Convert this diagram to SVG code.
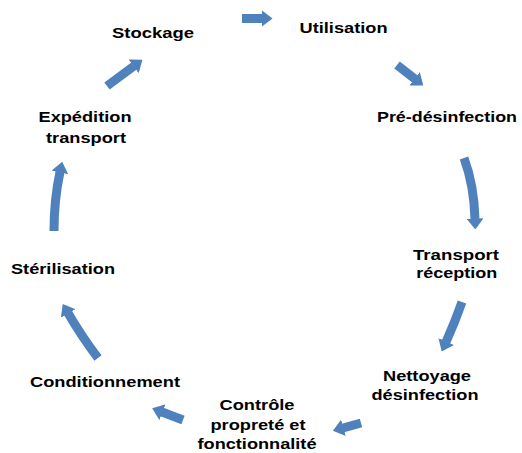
<svg xmlns="http://www.w3.org/2000/svg" width="522" height="453" viewBox="0 0 522 453">
<style>
.lbl{font-family:"Liberation Sans",Arial,sans-serif;font-weight:bold;font-size:15.5px;fill:#000;text-anchor:middle}
.arr{fill:none;stroke:#4F81BD;stroke-width:9;marker-end:url(#head)}
</style>
<defs>
<marker id="head" markerUnits="userSpaceOnUse" markerWidth="11" markerHeight="17" viewBox="0 0 11 17" refX="0.5" refY="8.5" orient="auto">
<path d="M0,0 L11,8.5 L0,17 z" fill="#4F81BD"/>
</marker>
</defs>
<rect width="522" height="453" fill="#fff"/>
<g id="connectors">
<path class="arr" d="M242,18.5 L262,18.5"/>
<path class="arr" d="M397,65 L415,79"/>
<path class="arr" d="M464,158 Q474,185 475,219"/>
<path class="arr" d="M462,302 Q455,322 446,342"/>
<path class="arr" d="M361,423 L343,428"/>
<path class="arr" d="M183,420 L162,412"/>
<path class="arr" d="M98,358 Q82,337 68,313"/>
<path class="arr" d="M54,231 Q54,200 60,172"/>
<path class="arr" d="M107,86 L134,66"/>
</g>
<g id="n-stockage"><text class="lbl" x="153" y="37.5" textLength="82" lengthAdjust="spacingAndGlyphs">Stockage</text></g>
<g id="n-utilisation"><text class="lbl" x="343.5" y="32.7" textLength="88" lengthAdjust="spacingAndGlyphs">Utilisation</text></g>
<g id="n-predesinfection"><text class="lbl" x="447" y="122" textLength="140" lengthAdjust="spacingAndGlyphs">Pré-désinfection</text></g>
<g id="n-transport"><text class="lbl" x="456" y="260" textLength="86" lengthAdjust="spacingAndGlyphs">Transport</text><text class="lbl" x="456.7" y="278" textLength="81" lengthAdjust="spacingAndGlyphs">réception</text></g>
<g id="n-nettoyage"><text class="lbl" x="427" y="381" textLength="88" lengthAdjust="spacingAndGlyphs">Nettoyage</text><text class="lbl" x="425" y="400" textLength="107" lengthAdjust="spacingAndGlyphs">désinfection</text></g>
<g id="n-controle"><text class="lbl" x="257" y="410" textLength="75" lengthAdjust="spacingAndGlyphs">Contrôle</text><text class="lbl" x="258" y="430" textLength="95" lengthAdjust="spacingAndGlyphs">propreté et</text><text class="lbl" x="257" y="449" textLength="119" lengthAdjust="spacingAndGlyphs">fonctionnalité</text></g>
<g id="n-conditionnement"><text class="lbl" x="105" y="387" textLength="150" lengthAdjust="spacingAndGlyphs">Conditionnement</text></g>
<g id="n-sterilisation"><text class="lbl" x="63" y="274" textLength="104" lengthAdjust="spacingAndGlyphs">Stérilisation</text></g>
<g id="n-expedition"><text class="lbl" x="85" y="122" textLength="93" lengthAdjust="spacingAndGlyphs">Expédition</text><text class="lbl" x="86" y="143" textLength="80" lengthAdjust="spacingAndGlyphs">transport</text></g>
</svg>
